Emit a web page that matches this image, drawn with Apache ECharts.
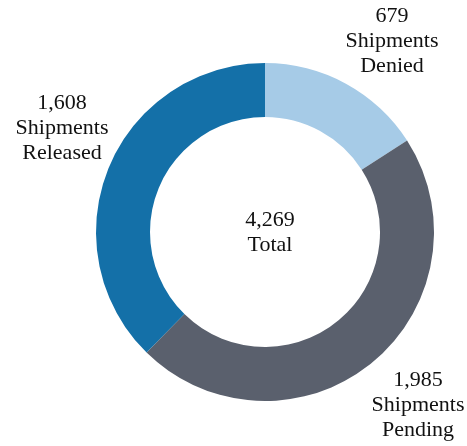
<!DOCTYPE html>
<html>
<head>
<meta charset="utf-8">
<script src="https://cdn.jsdelivr.net/npm/echarts@6/dist/echarts.min.js"></script>
<style>
html,body{margin:0;padding:0;background:#fff;}
#chart{width:467px;height:446px;}
</style>
</head>
<body>
<div id="chart"></div>
<script>
const categories = ['Shipments\nDenied', 'Shipments\nPending', 'Shipments\nReleased'];
const values = [679, 1985, 1608];
const colors = ['#a6cbe7', '#5a606d', '#1470a8'];
const totalValue = 4269;
const totalLabel = 'Total';

const labelPos = [[392, 41], [418, 405], [62, 128]];
const fmt = n => n.toLocaleString('en-US');

const chart = echarts.init(document.getElementById('chart'), null, {renderer: 'canvas'});
chart.setOption({
  animation: false,
  backgroundColor: '#ffffff',
  title: {
    text: fmt(totalValue) + '\n' + totalLabel,
    left: 265,
    top: 203,
    textAlign: 'center',
    textStyle: {
      fontFamily: 'Liberation Serif',
      fontSize: 22,
      fontWeight: 'normal',
      color: '#111',
      lineHeight: 25
    }
  },
  series: [{
    type: 'pie',
    center: [265, 232],
    radius: [115, 169],
    startAngle: 90,
    clockwise: true,
    silent: true,
    itemStyle: {borderWidth: 0},
    label: {
      show: true,
      position: 'outside',
      formatter: p => fmt(p.value) + '\n' + p.name,
      fontFamily: 'Liberation Serif',
      fontSize: 22,
      lineHeight: 25,
      color: '#111',
      align: 'center',
      overflow: 'none',
      width: 140
    },
    labelLine: {show: false},
    labelLayout: p => ({
      x: labelPos[p.dataIndex][0],
      y: labelPos[p.dataIndex][1],
      align: 'center',
      verticalAlign: 'middle',
      hideOverlap: false
    }),
    data: categories.map((c, i) => ({name: c, value: values[i], itemStyle: {color: colors[i]}}))
  }]
});
</script>
</body>
</html>
